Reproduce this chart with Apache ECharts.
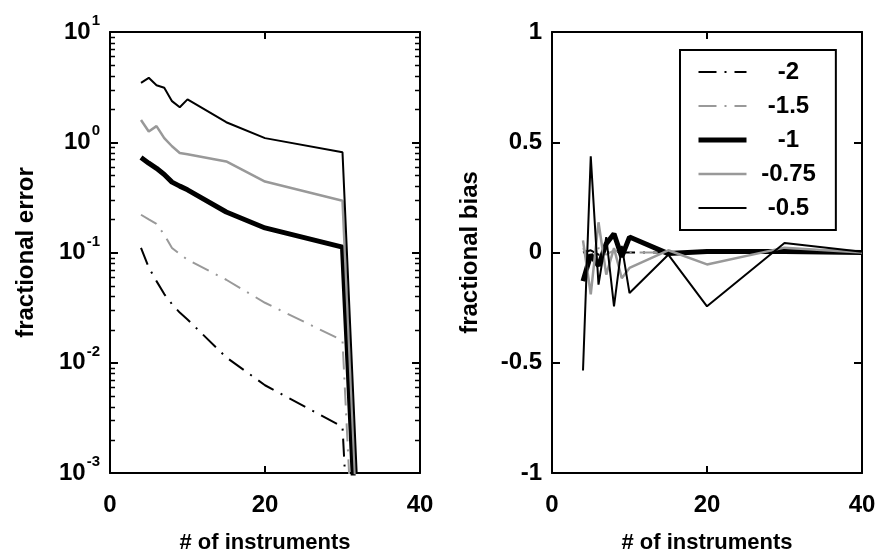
<!DOCTYPE html>
<html>
<head>
<meta charset="utf-8">
<script src="https://cdn.jsdelivr.net/npm/echarts@6/dist/echarts.min.js"></script>
<style>
  html, body { margin: 0; padding: 0; background: #fff; }
  #main { width: 880px; height: 559px; }
</style>
</head>
<body>
<div id="main"></div>
<script>
// number of instruments
var xs = [4, 5, 6, 7, 8, 9, 10, 15, 20, 30, 40];
var names = ['-2', '-1.5', '-1', '-0.75', '-0.5'];

// fractional error (left, log scale) - last value is ~0
var err2 = [0.110, 0.073, 0.055, 0.042, 0.034, 0.0285, 0.0247, 0.0112, 0.00625, 0.00262, 1e-16];
var err15 = [0.220, 0.200, 0.182, 0.145, 0.110, 0.097, 0.086, 0.0566, 0.035, 0.0159, 1e-16];
var err1 = [0.727, 0.646, 0.580, 0.510, 0.435, 0.400, 0.370, 0.233, 0.167, 0.112, 1e-16];
var err075 = [1.59, 1.25, 1.40, 1.09, 0.92, 0.80, 0.78, 0.67, 0.44, 0.295, 1e-16];
var err05 = [3.46, 3.84, 3.29, 3.12, 2.36, 2.08, 2.45, 1.52, 1.09, 0.81, 1e-16];

// fractional bias (right)
var bias2 = [0.0, 0.01, -0.01, 0.0, 0.005, 0.0, 0.0, 0.0, 0.0, 0.0, 0.0];
var bias15 = [0.02, -0.03, 0.02, -0.01, 0.01, 0.0, 0.0, 0.0, 0.0, 0.0, 0.0];
var bias1 = [-0.13, -0.01, -0.06, 0.04, 0.085, -0.02, 0.07, -0.005, 0.005, 0.005, 0.0];
var bias075 = [0.055, -0.19, 0.137, -0.10, 0.02, -0.117, -0.07, 0.01, -0.054, 0.022, 0.0];
var bias05 = [-0.535, 0.436, -0.146, 0.07, -0.244, 0.03, -0.184, -0.01, -0.244, 0.043, 0.003];

// log axis minor ticks (2..9 in each decade), as exponents
var decadeExps = [-3, -2, -1, 0];
var minorFactors = [2, 3, 4, 5, 6, 7, 8, 9];

var minorTickExps = [];
decadeExps.forEach(function (e) {
  minorFactors.forEach(function (f) { minorTickExps.push(e + Math.log10(f)); });
});

var font = "'Liberation Sans', Arial, sans-serif";
var styles = [
  { color: '#000', width: 2, type: [18, 8, 2, 8] },
  { color: '#999', width: 2, type: [18, 8, 2, 8] },
  { color: '#000', width: 5, type: 'solid' },
  { color: '#999', width: 2.5, type: 'solid' },
  { color: '#000', width: 2, type: 'solid' }
];
var errData = [err2, err15, err1, err075, err05];
var biasData = [bias2, bias15, bias1, bias075, bias05];

function pairs(arr) {
  return xs.map(function (x, i) { return [x, arr[i]]; });
}

var axisLine = { show: true, onZero: false, lineStyle: { color: '#000', width: 2 } };
var tickLabel = { color: '#000', fontFamily: font, fontWeight: 'bold', fontSize: 24 };

function xAxisDef(grid, pos, withLabel) {
  return {
    gridIndex: grid, type: 'value', position: pos, min: 0, max: 40, interval: 20,
    axisLine: axisLine,
    axisTick: { inside: true, length: 7, lineStyle: { color: '#000', width: 2 } },
    axisLabel: withLabel ? Object.assign({ margin: 20 }, tickLabel) : { show: false },
    splitLine: { show: false },
    name: withLabel ? '# of instruments' : '',
    nameLocation: 'middle', nameGap: 59,
    nameTextStyle: { color: '#000', fontFamily: font, fontWeight: 'bold', fontSize: 22 }
  };
}

function logAxisDef(pos, withLabel) {
  var a = {
    gridIndex: 0, type: 'log', logBase: 10, position: pos, min: 1e-3, max: 10,
    axisLine: axisLine,
    splitLine: { show: false },
    axisTick: { inside: true, length: 8, lineStyle: { color: '#000', width: 2 } },
    axisLabel: { show: false }
  };
  if (withLabel) {
    a.axisLabel = {
      show: true, margin: 10,
      formatter: function (v) {
        return '{b|10}{s|' + Math.round(Math.log10(v)) + '}';
      },
      rich: {
        b: { color: '#000', fontFamily: font, fontWeight: 'bold', fontSize: 24 },
        s: { color: '#000', fontFamily: font, fontWeight: 'bold', fontSize: 15, padding: [0, 0, 22, 1] }
      }
    };
    a.name = 'fractional error';
    a.nameLocation = 'middle';
    a.nameGap = 72;
    a.nameTextStyle = { color: '#000', fontFamily: font, fontWeight: 'bold', fontSize: 24 };
  }
  return a;
}

function biasAxisDef(pos, withLabel) {
  return {
    gridIndex: 1, type: 'value', position: pos, min: -1, max: 1, interval: 0.5,
    axisLine: axisLine,
    axisTick: { inside: true, length: 8, lineStyle: { color: '#000', width: 2 } },
    axisLabel: withLabel ? Object.assign({ margin: 10 }, tickLabel) : { show: false },
    splitLine: { show: false },
    name: withLabel ? 'fractional bias' : '',
    nameLocation: 'middle', nameGap: 70,
    nameTextStyle: { color: '#000', fontFamily: font, fontWeight: 'bold', fontSize: 24 }
  };
}

var series = [];
names.forEach(function (n, i) {
  series.push({
    name: n, type: 'line', xAxisIndex: 0, yAxisIndex: 0,
    data: pairs(errData[i]), symbol: 'none', lineStyle: styles[i],
    itemStyle: { color: styles[i].color }, z: 2 + i
  });
});
names.forEach(function (n, i) {
  series.push({
    name: n, type: 'line', xAxisIndex: 2, yAxisIndex: 2,
    data: pairs(biasData[i]), symbol: 'none', lineStyle: styles[i],
    itemStyle: { color: styles[i].color }, z: 2 + i
  });
});

var chart = echarts.init(document.getElementById('main'));
chart.setOption({
  backgroundColor: '#fff',
  animation: false,
  grid: [
    { left: 110, top: 32, width: 310, height: 445 },
    { left: 552, top: 32, width: 310, height: 445 }
  ],
  xAxis: [
    xAxisDef(0, 'bottom', true),
    xAxisDef(0, 'top', false),
    xAxisDef(1, 'bottom', true),
    xAxisDef(1, 'top', false)
  ],
  yAxis: [
    logAxisDef('left', true),
    logAxisDef('right', false),
    biasAxisDef('left', true),
    biasAxisDef('right', false)
  ],
  legend: {
    data: names.map(function (n, i) {
      return { name: n, lineStyle: styles[i] };
    }),
    orient: 'vertical', left: 680, top: 50,
    padding: [10, 20, 10, 16], itemWidth: 48, itemHeight: 24, itemGap: 10,
    borderColor: '#000', borderWidth: 2, backgroundColor: '#fff',
    selectedMode: false,
    itemStyle: { opacity: 0, borderWidth: 0 },
    formatter: function (n) { return '{c|' + n + '}'; },
    textStyle: {
      rich: { c: { width: 74, align: 'center', color: '#000', fontFamily: font, fontWeight: 'bold', fontSize: 24 } }
    }
  },
  series: series
});

// small log ticks on both sides of the left box, placed from the axis's own scale
var xL = chart.convertToPixel({ xAxisIndex: 0 }, 0);
var xR = chart.convertToPixel({ xAxisIndex: 0 }, 40);
var yLo = chart.convertToPixel({ yAxisIndex: 0 }, 1e-3);
var yHi = chart.convertToPixel({ yAxisIndex: 0 }, 10);
var ticks = [];
minorTickExps.forEach(function (e) {
  var y = Math.round(yLo + (yHi - yLo) * (e + 3) / 4) + 0.5;
  var st = { stroke: '#000', lineWidth: 1.5 };
  ticks.push({ type: 'line', silent: true, z: 50, shape: { x1: xL, y1: y, x2: xL + 5, y2: y }, style: st });
  ticks.push({ type: 'line', silent: true, z: 50, shape: { x1: xR, y1: y, x2: xR - 5, y2: y }, style: st });
});
chart.setOption({ graphic: ticks });
</script>
</body>
</html>
